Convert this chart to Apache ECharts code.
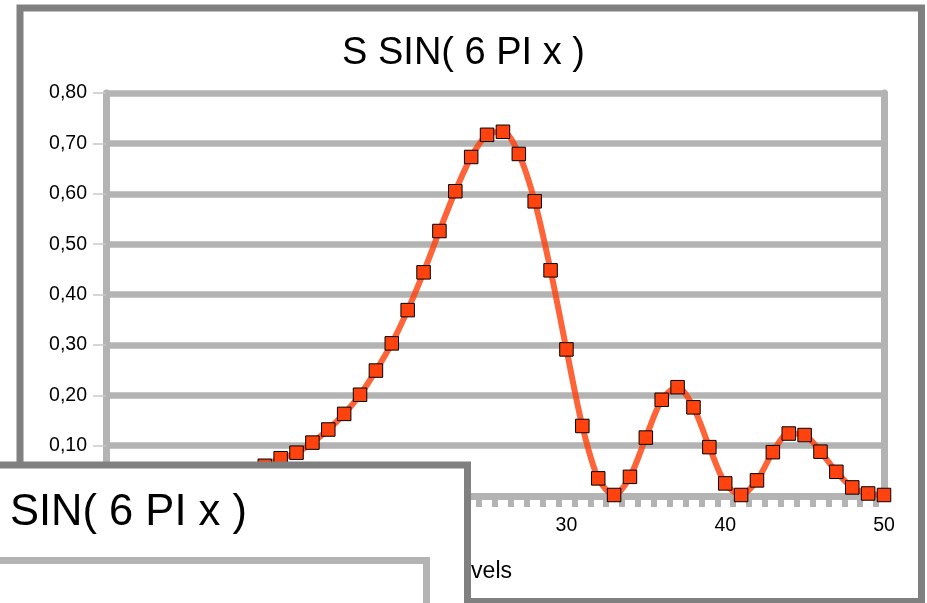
<!DOCTYPE html>
<html>
<head>
<meta charset="utf-8">
<script src="https://cdn.jsdelivr.net/npm/echarts@6/dist/echarts.min.js"></script>
<style>
html,body{margin:0;padding:0;background:#fff;}
#chart{width:927px;height:603px;}
</style>
</head>
<body>
<div id="chart"></div>
<script>
// ---- data ----
var categories = [1,2,3,4,5,6,7,8,9,10,11,12,13,14,15,16,17,18,19,20,21,22,23,24,25,26,27,28,29,30,31,32,33,34,35,36,37,38,39,40,41,42,43,44,45,46,47,48,49,50];
var values = [0.018,0.020,0.022,0.024,0.026,0.029,0.032,0.035,0.039,0.045,0.060,0.075,0.086,0.106,0.132,0.163,0.201,0.249,0.303,0.369,
              0.444,0.526,0.605,0.673,0.717,0.723,0.679,0.585,0.448,0.291,0.139,0.035,0.002,0.038,0.116,0.191,0.216,0.176,0.097,0.025,
              0.002,0.031,0.087,0.124,0.121,0.088,0.048,0.017,0.005,0.002];
var xLabelValues = [10,20,30,40,50];
var xTickValues = [1.5,2.5,3.5,4.5,5.5,6.5,7.5,8.5,9.5,10.5,11.5,12.5,13.5,14.5,15.5,16.5,17.5,18.5,19.5,20.5,21.5,22.5,23.5,24.5,25.5,26.5,27.5,28.5,29.5,30.5,31.5,32.5,33.5,34.5,35.5,36.5,37.5,38.5,39.5,40.5,41.5,42.5,43.5,44.5,45.5,46.5,47.5,48.5,49.5];
var yMin = 0, yMax = 0.8, yStep = 0.1;
var titleText = 'S SIN( 6 PI x )';
var overlayText = 'SIN( 6 PI x )';
var xName = 'Levels';

var FONT = '"Liberation Sans", Arial, sans-serif';
var points = categories.map(function (c, i) { return [c, values[i]]; });

var chart = echarts.init(document.getElementById('chart'));
chart.setOption({
  animation: false,
  backgroundColor: '#ffffff',
  title: {
    text: titleText, left: 'center', top: 30,
    textStyle: { fontFamily: FONT, fontSize: 38, fontWeight: 'normal', color: '#000' }
  },
  grid: { left: 106, right: 43, top: 93, bottom: 107 },
  xAxis: {
    type: 'value', min: 1, max: 50,
    axisLine: { show: true, onZero: false, lineStyle: { color: '#b3b3b3', width: 7 } },
    axisTick: { show: true, customValues: xTickValues, length: 11, lineStyle: { color: '#b3b3b3', width: 6 } },
    axisLabel: { customValues: xLabelValues, fontFamily: FONT, fontSize: 19.5, color: '#000', margin: 20 },
    splitLine: { show: false }
  },
  yAxis: [{
    type: 'value', min: yMin, max: yMax, interval: yStep,
    axisLine: { show: true, lineStyle: { color: '#b3b3b3', width: 7 } },
    axisTick: { show: true, length: 13, lineStyle: { color: '#c8c8c8', width: 1.5 } },
    axisLabel: {
      fontFamily: FONT, fontSize: 19.5, color: '#000', margin: 19,
      formatter: function (v) { return v.toFixed(2).replace('.', ','); }
    },
    splitLine: { show: true, lineStyle: { color: '#b3b3b3', width: 6.5 } }
  }, {
    type: 'value', min: yMin, max: yMax, interval: yStep, position: 'right',
    axisLine: { show: true, lineStyle: { color: '#b3b3b3', width: 7 } },
    axisTick: { show: false }, axisLabel: { show: false }, splitLine: { show: false }
  }],
  series: [{
    type: 'line',
    data: points,
    smooth: 0.3,
    symbol: 'rect',
    symbolSize: 13.5,
    lineStyle: { color: 'rgba(255,66,14,0.82)', width: 6 },
    itemStyle: { color: '#ff420e', borderColor: '#000', borderWidth: 1 },
    z: 3
  }],
  graphic: [
    { type: 'text', z: 1, style: { text: xName, x: 512, y: 572, textAlign: 'right', textVerticalAlign: 'middle', font: '23px ' + FONT, fill: '#000' } },
    { type: 'rect', z: 100, shape: { x: 20, y: 8, width: 901.5, height: 593.5 }, style: { fill: 'none', stroke: '#808080', lineWidth: 7 } },
    { type: 'rect', z: 110, shape: { x: -20, y: 465, width: 487.5, height: 200 }, style: { fill: '#ffffff', stroke: '#808080', lineWidth: 7 } },
    { type: 'rect', z: 111, shape: { x: -20, y: 560.5, width: 446.5, height: 100 }, style: { fill: '#ffffff', stroke: '#b3b3b3', lineWidth: 7 } },
    { type: 'text', z: 112, style: { text: overlayText, x: 10, y: 513, textAlign: 'left', textVerticalAlign: 'middle', font: '43.5px ' + FONT, fill: '#000' } }
  ]
});
</script>
</body>
</html>
